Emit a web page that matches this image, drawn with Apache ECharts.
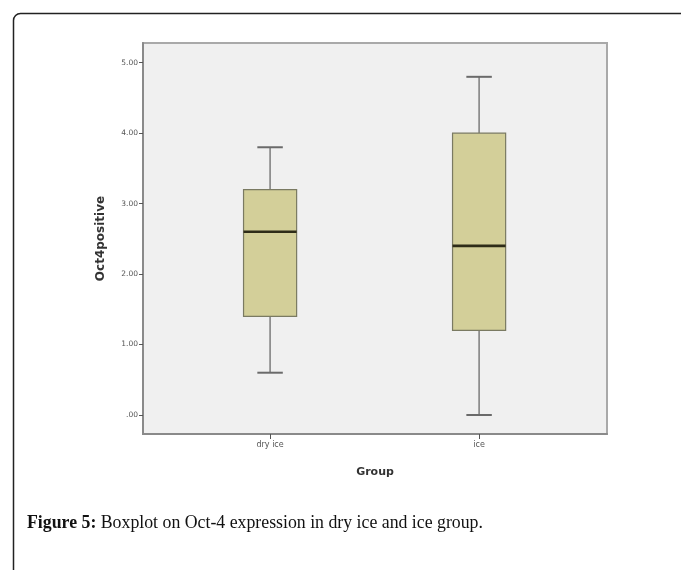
<!DOCTYPE html>
<html>
<head>
<meta charset="utf-8">
<script src="https://cdn.jsdelivr.net/npm/echarts@6/dist/echarts.min.js"></script>
<style>html,body{margin:0;padding:0;background:#fff;}#c{width:681px;height:570px;}</style>
</head>
<body>
<div id="c"></div>
<script>
// Data
const categories = ['dry ice', 'ice'];
const whiskerLow = [0.6, 0.0];
const q1 = [1.4, 1.2];
const median = [2.6, 2.4];
const q3 = [3.2, 4.0];
const whiskerHigh = [3.8, 4.8];
const yTicks = [0, 1, 2, 3, 4, 5];

const seriesData = categories.map((c, i) => [i, whiskerLow[i], q1[i], median[i], q3[i], whiskerHigh[i]]);

const chart = echarts.init(document.getElementById('c'));

function renderBox(params, api) {
  const x = api.value(0);
  const pMin = api.coord([x, api.value(1)]);
  const pQ1 = api.coord([x, api.value(2)]);
  const pMed = api.coord([x, api.value(3)]);
  const pQ3 = api.coord([x, api.value(4)]);
  const pMax = api.coord([x, api.value(5)]);
  const unit = api.size([1, 0])[0];
  const bw = unit * 0.254;
  const cw = bw * 0.48;
  const cx = pMed[0];
  const lineStyle = { stroke: '#6a6a6a', lineWidth: 1.3 };
  return {
    type: 'group',
    children: [
      { type: 'line', shape: { x1: cx, y1: pMin[1], x2: cx, y2: pQ1[1] }, style: lineStyle },
      { type: 'line', shape: { x1: cx, y1: pQ3[1], x2: cx, y2: pMax[1] }, style: lineStyle },
      { type: 'line', shape: { x1: cx - cw / 2, y1: pMin[1], x2: cx + cw / 2, y2: pMin[1] }, style: { stroke: '#6a6a6a', lineWidth: 2 } },
      { type: 'line', shape: { x1: cx - cw / 2, y1: pMax[1], x2: cx + cw / 2, y2: pMax[1] }, style: { stroke: '#6a6a6a', lineWidth: 2 } },
      { type: 'rect', shape: { x: cx - bw / 2, y: pQ3[1], width: bw, height: pQ1[1] - pQ3[1] }, style: { fill: '#d3cf99', stroke: '#7a7a62', lineWidth: 1.2 } },
      { type: 'line', shape: { x1: cx - bw / 2, y1: pMed[1], x2: cx + bw / 2, y2: pMed[1] }, style: { stroke: '#2e2c18', lineWidth: 2.6 } }
    ]
  };
}

const option = {
  backgroundColor: '#ffffff',
  animation: false,
  textStyle: { fontFamily: 'DejaVu Sans' },
  title: {
    left: 22,
    top: 509,
    text: '{b|Figure 5:}{n| Boxplot on Oct-4 expression in dry ice and ice group.}',
    textStyle: {
      fontWeight: 'normal',
      rich: {
        b: { fontFamily: 'Liberation Serif', fontWeight: 'bold', fontSize: 17.8, color: '#111' },
        n: { fontFamily: 'Liberation Serif', fontWeight: 'normal', fontSize: 17.8, color: '#111' }
      }
    }
  },
  graphic: [
    { type: 'rect', left: 11, top: 11, shape: { width: 720, height: 620, r: 7 }, style: { fill: 'none', stroke: '#222', lineWidth: 1.5 }, silent: true, z: 0 }
  ],
  grid: {
    left: 143, top: 43, right: 74, bottom: 136,
    show: true, backgroundColor: '#f0f0f0', borderColor: '#a9a9a9', borderWidth: 2
  },
  xAxis: {
    type: 'value',
    min: -0.608, max: 1.612,
    splitLine: { show: false },
    axisLine: { show: true, onZero: false, lineStyle: { color: '#8a8a8a', width: 2 } },
    axisTick: { show: true, customValues: [0, 1], length: 5, inside: false, lineStyle: { color: '#555', width: 1 } },
    axisLabel: { customValues: [0, 1], formatter: v => categories[Math.round(v)], fontSize: 8, color: '#555', margin: 7 },
    name: 'Group', nameLocation: 'middle', nameGap: 33,
    nameTextStyle: { fontWeight: 'bold', fontSize: 11, color: '#333' }
  },
  yAxis: {
    type: 'value',
    min: -0.27, max: 5.28,
    splitLine: { show: false },
    axisLine: { show: true, onZero: false, lineStyle: { color: '#8a8a8a', width: 2 } },
    axisTick: { show: true, customValues: yTicks, length: 4, lineStyle: { color: '#555', width: 1 } },
    axisLabel: { customValues: yTicks, formatter: v => v === 0 ? '.00' : v.toFixed(2), fontSize: 7.5, color: '#555', margin: 5 },
    name: 'Oct4positive', nameLocation: 'middle', nameGap: 36, nameRotate: 90,
    nameTextStyle: { fontWeight: 'bold', fontSize: 12, color: '#333' }
  },
  series: [{
    type: 'custom',
    renderItem: renderBox,
    encode: { x: 0, y: [1, 2, 3, 4, 5] },
    data: seriesData,
    clip: false
  }]
};
chart.setOption(option);
</script>
</body>
</html>
